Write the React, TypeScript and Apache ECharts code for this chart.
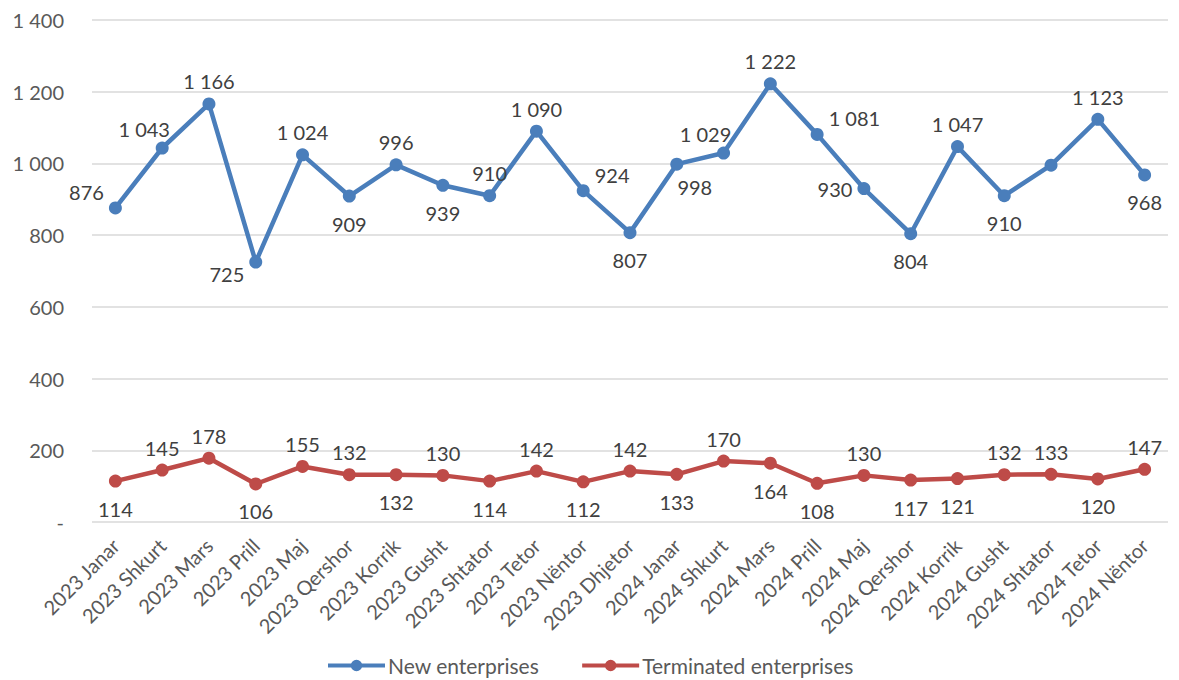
import React, { useEffect, useRef } from "react";
import * as echarts from "echarts";

const categories = [
  "2023 Janar", "2023 Shkurt", "2023 Mars", "2023 Prill", "2023 Maj", "2023 Qershor",
  "2023 Korrik", "2023 Gusht", "2023 Shtator", "2023 Tetor", "2023 Nëntor", "2023 Dhjetor",
  "2024 Janar", "2024 Shkurt", "2024 Mars", "2024 Prill", "2024 Maj", "2024 Qershor",
  "2024 Korrik", "2024 Gusht", "2024 Shtator", "2024 Tetor", "2024 Nëntor",
];

const newEnterprises = [
  876, 1043, 1166, 725, 1024, 909, 996, 939, 910, 1090, 924, 807,
  998, 1029, 1222, 1081, 930, 804, 1047, 910, 995, 1123, 968,
];

const terminatedEnterprises = [
  114, 145, 178, 106, 155, 132, 132, 130, 114, 142, 112, 142,
  133, 170, 164, 108, 130, 117, 121, 132, 133, 120, 147,
];

// label placement for each point ("none" hides the label)
const newLabelPos = [
  "leftUp", "topLeft", "top", "leftDown", "top", "bottom", "top", "bottom", "top", "top", "rightUp", "bottom",
  "bottomRight", "topLeft", "top", "rightUp", "left", "bottom", "top", "bottom", "none", "top", "bottom",
];
const termLabelPos = [
  "bottom", "top", "top", "bottom", "top", "top", "bottom", "top", "bottom", "top", "bottom", "top",
  "bottom", "top", "bottom", "bottom", "top", "bottom", "bottom", "top", "top", "bottom", "top",
];

const yTicks = [0, 200, 400, 600, 800, 1000, 1200, 1400];

const fmt = (v: number) =>
  v === 0 ? "-" : String(v).replace(/\B(?=(\d{3})+(?!\d))/g, " ");

const FONT = "Lato";
const TEXT = "#404040";
const AXIS_TEXT = "#595959";

const placements: Record<string, any> = {
  top: { position: "top", distance: 6 },
  bottom: { position: "bottom", distance: 11 },
  left: { position: "left", distance: 5 },
  right: { position: "right", distance: 5 },
  leftUp: { position: "left", distance: 5, offset: [0, -16] },
  leftDown: { position: "left", distance: 5, offset: [0, 12] },
  rightUp: { position: "right", distance: 5, offset: [0, -16] },
  topLeft: { position: "top", distance: 6, offset: [-18, 3] },
  bottomRight: { position: "bottom", distance: 6, offset: [18, 0] },
};

function buildData(values: number[], pos: string[]) {
  return values.map((v, i) => {
    const p = pos[i];
    if (p === "none") return { value: v, label: { show: false } };
    return { value: v, label: { show: true, ...placements[p] } };
  });
}

const legendIcon =
  "path://M0,5H60V9H0Z M24,7A6,6 0 1 1 36,7A6,6 0 1 1 24,7Z";

export default function App() {
  const ref = useRef<HTMLDivElement>(null);
  useEffect(() => {
    if (!ref.current) return;
    const chart = echarts.init(ref.current, undefined, { renderer: "svg" });
    chart.setOption({
      animation: false,
      textStyle: { fontFamily: FONT },
      grid: { left: 84, right: 3, top: 12, bottom: 158, containLabel: false },
      legend: {
        top: 642,
        left: 315,
        itemWidth: 57,
        itemHeight: 14,
        itemGap: 43,
        textStyle: { fontFamily: FONT, fontSize: 21, color: AXIS_TEXT, padding: [0, 0, 0, -2] },
        data: [
          { name: "New enterprises", icon: legendIcon },
          { name: "Terminated enterprises", icon: legendIcon },
        ],
      },
      xAxis: {
        type: "category",
        data: categories,
        boundaryGap: true,
        axisLine: { show: false },
        axisTick: { show: false },
        axisLabel: {
          rotate: 45,
          interval: 0,
          fontFamily: FONT,
          fontSize: 20,
          color: AXIS_TEXT,
          margin: 20,
        },
      },
      yAxis: {
        type: "value",
        min: 0,
        max: yTicks[yTicks.length - 1],
        interval: 200,
        axisLine: { show: false },
        axisTick: { show: false },
        splitLine: { lineStyle: { color: "#d9d9d9", width: 1.5 } },
        axisLabel: {
          formatter: (v: number) => fmt(v),
          fontFamily: FONT,
          fontSize: 20,
          color: AXIS_TEXT,
          margin: 28,
        },
      },
      series: [
        {
          name: "New enterprises",
          type: "line",
          data: buildData(newEnterprises, newLabelPos),
          symbol: "circle",
          symbolSize: 13,
          lineStyle: { color: "#4a7ebb", width: 4.5 },
          itemStyle: { color: "#4a7ebb" },
          label: {
            show: true,
            formatter: (p: any) => fmt(p.value),
            fontFamily: FONT,
            fontSize: 20,
            color: TEXT,
          },
        },
        {
          name: "Terminated enterprises",
          type: "line",
          data: buildData(terminatedEnterprises, termLabelPos),
          symbol: "circle",
          symbolSize: 13,
          lineStyle: { color: "#be4b48", width: 4.5 },
          itemStyle: { color: "#be4b48" },
          label: {
            show: true,
            formatter: (p: any) => fmt(p.value),
            fontFamily: FONT,
            fontSize: 20,
            color: TEXT,
          },
        },
      ],
    });
    return () => chart.dispose();
  }, []);
  return <div ref={ref} style={{ width: 1163, height: 672 }} />;
}
